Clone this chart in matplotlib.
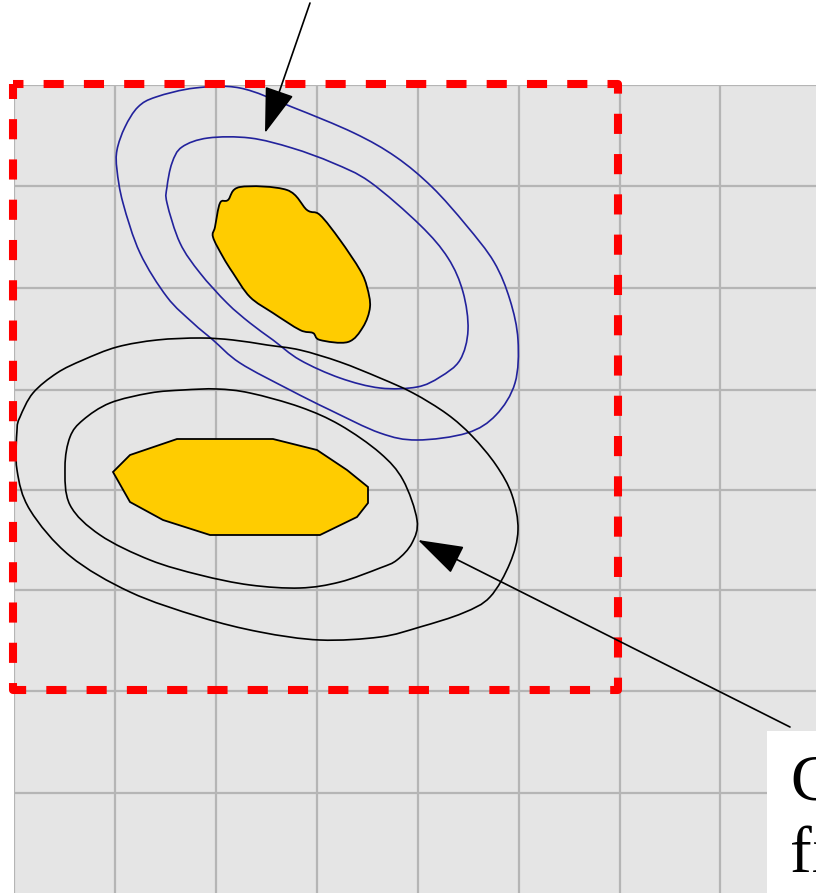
import numpy as np
import matplotlib
matplotlib.use("Agg")
import matplotlib.pyplot as plt
from matplotlib.path import Path
from matplotlib.patches import PathPatch

# ---- data (traced in the chart's own pixel-like units, y grows downward) ----
grid_x = [14, 115, 216, 317, 418, 519, 620, 720]
grid_y = [85, 186, 288, 390, 490, 590, 691, 793]

blue_outer_x = [195, 240, 292, 354, 396, 432, 466, 494, 510, 518, 515, 496, 467, 417, 380, 330, 290, 240, 213, 193, 167, 140, 123, 117, 117, 125, 138, 156]
blue_outer_y = [88, 88, 107, 133, 157, 187, 225, 262, 300, 340, 383, 415, 433, 440, 433, 410, 390, 363, 340, 323, 297, 253, 203, 170, 150, 127, 107, 97]

blue_inner_x = [208, 250, 292, 333, 370, 420, 448, 463, 468, 460, 440, 417, 380, 340, 300, 273, 250, 227, 200, 180, 167, 167, 172, 182]
blue_inner_y = [138, 138, 148, 163, 182, 225, 258, 292, 330, 360, 377, 387, 388, 378, 360, 340, 323, 303, 273, 243, 203, 187, 163, 147]

black_outer_x = [20, 33, 57, 83, 117, 157, 200, 233, 267, 300, 340, 380, 413, 447, 472, 496, 512, 518, 510, 490, 463, 420, 380, 320, 260, 200, 130, 70, 30, 17, 17]
black_outer_y = [417, 393, 373, 360, 347, 340, 338, 340, 345, 350, 362, 378, 393, 414, 436, 465, 495, 530, 563, 597, 613, 627, 637, 640, 632, 617, 592, 556, 510, 470, 430]

black_inner_x = [70, 83, 110, 150, 183, 217, 250, 300, 340, 380, 403, 417, 412, 397, 380, 340, 300, 250, 200, 150, 100, 70, 65]
black_inner_y = [437, 420, 403, 393, 390, 389, 393, 407, 425, 453, 480, 520, 543, 560, 568, 582, 588, 585, 575, 560, 535, 505, 467]

blob_top_x = [240, 287, 307, 320, 340, 360, 367, 370, 363, 348, 320, 313, 300, 273, 250, 233, 223, 213, 215, 220, 228]
blob_top_y = [187, 190, 210, 215, 240, 270, 287, 307, 327, 342, 340, 333, 330, 313, 297, 273, 257, 237, 227, 203, 200]

blob_low_x = [113, 130, 177, 273, 317, 347, 368, 368, 357, 320, 210, 163, 130, 113]
blob_low_y = [472, 455, 439, 439, 450, 470, 487, 503, 517, 535, 535, 520, 502, 472]

region_x = [13, 618, 618, 13, 13]
region_y = [84, 84, 690, 690, 84]

arrow_top_from = (310, 3)
arrow_top_to = (265, 133)
arrow_low_from = (790, 727)
arrow_low_to = (418, 540)

label_text = "C\nfi"


def closed_smooth_path(xs, ys):
    """Closed curve through the traced points (Catmull-Rom as cubic Beziers)."""
    pts = np.column_stack([xs, ys]).astype(float)
    n = len(pts)
    verts = [pts[0]]
    codes = [Path.MOVETO]
    for i in range(n):
        p0, p1, p2, p3 = pts[i - 1], pts[i], pts[(i + 1) % n], pts[(i + 2) % n]
        c1 = p1 + (p2 - p0) / 6.0
        c2 = p2 - (p3 - p1) / 6.0
        verts += [c1, c2, p2]
        codes += [Path.CURVE4] * 3
    verts.append(pts[0])
    codes.append(Path.CLOSEPOLY)
    return Path(verts, codes)


# ---- figure ----
W, H = 816, 893
fig = plt.figure(figsize=(W / 100, H / 100), dpi=100)
fig.patch.set_facecolor("white")
ax = fig.add_axes([14 / W, 0, (W - 14) / W, (H - 85) / H])
ax.set_xlim(14, 816)
ax.set_ylim(893, 85)
ax.set_facecolor("#e5e5e5")
ax.set_xticks(grid_x)
ax.set_yticks(grid_y)
ax.tick_params(length=0, labelbottom=False, labelleft=False)
for s in ax.spines.values():
    s.set_visible(False)
ax.grid(True, color="#b5b5b5", lw=1.6)
ax.set_axisbelow(True)

blue = "#22229c"
for xs, ys, col in [(blue_outer_x, blue_outer_y, blue),
                    (blue_inner_x, blue_inner_y, blue),
                    (black_outer_x, black_outer_y, "black"),
                    (black_inner_x, black_inner_y, "black")]:
    ax.add_patch(PathPatch(closed_smooth_path(xs, ys), facecolor="none",
                           edgecolor=col, lw=1.2, zorder=3))

ax.add_patch(PathPatch(closed_smooth_path(blob_top_x, blob_top_y), facecolor="#ffcc00",
                       edgecolor="black", lw=1.3, zorder=4))
ax.fill(blob_low_x, blob_low_y, facecolor="#ffcc00", edgecolor="black", lw=1.3, zorder=4)

ax.plot(region_x, region_y, color="#ff0000", lw=5.8, linestyle=(1.2, (2.5, 2.5)),
        dash_capstyle="butt", clip_on=False, zorder=5)

head = "-|>,head_length=2.9,head_width=0.95"
ax.annotate("", xy=arrow_top_to, xytext=arrow_top_from, annotation_clip=False,
            arrowprops=dict(arrowstyle=head, color="black", lw=1.2, shrinkA=0, shrinkB=0),
            zorder=6)
ax.annotate("", xy=arrow_low_to, xytext=arrow_low_from, annotation_clip=False,
            arrowprops=dict(arrowstyle=head, color="black", lw=1.2, shrinkA=0, shrinkB=0),
            zorder=6)

ax.text(790, 754, label_text, ha="left", va="top", fontsize=47,
        family="Liberation Serif", linespacing=1.28, zorder=7,
        bbox=dict(boxstyle="square,pad=0.35", fc="white", ec="none"))

fig.savefig("out.png", dpi=100)
